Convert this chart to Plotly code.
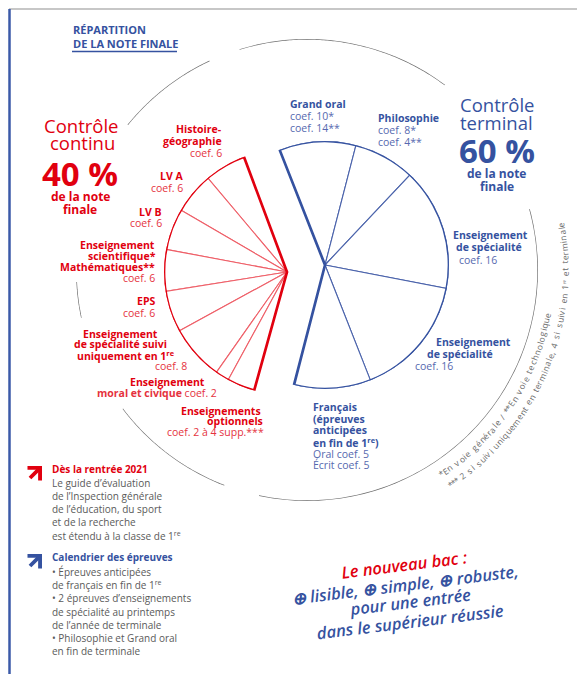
import numpy as np
import plotly.graph_objects as go

W, H = 577, 674
RED = "#E1000F"
RED_COEF = "#E5323E"
RED_DIV = "#EE5F68"
BLUE = "#3552A0"
BLUE_COEF = "#5669AF"
BLUE_DIV = "#4B63AB"
GRAY_TXT = "#5a5a5a"
GRAY_ARC = "#6e6e6e"
FONT = "Open Sans"

# ---------------- data ----------------
share_labels = ["Contrôle continu", "Contrôle terminal"]
share_values = [40, 60]

cc_subjects = ["Histoire-géographie", "LV A", "LV B",
               "Enseignement scientifique* / Mathématiques**", "EPS",
               "Enseignement de spécialité suivi uniquement en 1re",
               "Enseignement moral et civique", "Enseignements optionnels"]
cc_coefs = [6, 6, 6, 6, 6, 8, 2, 4]

ct_subjects = ["Grand oral", "Philosophie", "Enseignement de spécialité",
               "Enseignement de spécialité", "Français (épreuves anticipées)"]
ct_coefs = [10, 8, 16, 16, 10]

footnotes = ["*En voie générale / **En voie technologique",
             "*** 2 si suivi uniquement en terminale, 4 si suivi en 1ʳᵉ et terminale"]

# ---------------- geometry (layout only) ----------------
RED_CENTER, RED_R, RED_START = (287, 272), 123, 110.5
BLUE_CENTER, BLUE_R, BLUE_START = (325, 265), 124, 111.5
RING_CENTER, RING_R = (307, 270), 231
ring_spans = [(115, 141), (53.3, 107), (183, 192), (217, 249), (258, 375.3)]


def domain(c, r):
    cx, cy = c
    return dict(x=[(cx - r) / W, (cx + r) / W], y=[1 - (cy + r) / H, 1 - (cy - r) / H])


def fan(coefs, share, start, direction):
    span = 360.0 * share / 100.0
    w = np.array(coefs, float) / sum(coefs) * span
    edges = np.concatenate([[0], np.cumsum(w)])
    mids = start + direction * (edges[:-1] + w / 2)
    return mids, w, start + direction * span / 2, span


fig = go.Figure()

# guide ring
for a0, a1 in ring_spans:
    th = np.linspace(a0, a1, 120)
    fig.add_trace(go.Scatterpolar(r=np.ones_like(th), theta=th, mode="lines",
                                  line=dict(color=GRAY_ARC, width=1.4),
                                  subplot="polar3", hoverinfo="skip", showlegend=False))

# red fan (contrôle continu)
mids, w, cen, span = fan(cc_coefs, share_values[0], RED_START, +1)
fig.add_trace(go.Barpolar(r=[1] * len(cc_coefs), theta=mids, width=w, text=cc_subjects,
                          marker=dict(color="white", line=dict(color=RED_DIV, width=1.1)),
                          subplot="polar", hoverinfo="text", showlegend=False))
fig.add_trace(go.Barpolar(r=[1], theta=[cen], width=[span],
                          marker=dict(color="rgba(0,0,0,0)", line=dict(color=RED, width=2.7)),
                          subplot="polar", hoverinfo="skip", showlegend=False))

# blue fan (contrôle terminal)
mids, w, cen, span = fan(ct_coefs, share_values[1], BLUE_START, -1)
fig.add_trace(go.Barpolar(r=[1] * len(ct_coefs), theta=mids, width=w, text=ct_subjects,
                          marker=dict(color="white", line=dict(color=BLUE_DIV, width=1.1)),
                          subplot="polar2", hoverinfo="text", showlegend=False))
fig.add_trace(go.Barpolar(r=[1], theta=[cen], width=[span],
                          marker=dict(color="rgba(0,0,0,0)", line=dict(color=BLUE, width=2.7)),
                          subplot="polar2", hoverinfo="skip", showlegend=False))

pol = dict(bgcolor="rgba(0,0,0,0)",
           radialaxis=dict(visible=False, range=[0, 1]),
           angularaxis=dict(visible=False, rotation=0, direction="counterclockwise"))

ann = []


def txt(x, y, s, size=10.5, color=RED, bold=False, anchor="right", angle=0, italic=False,
        weight=None):
    wgt = weight if weight is not None else ("bold" if bold else "normal")
    ann.append(dict(x=x / W, y=1 - y / H, xref="paper", yref="paper", text=s,
                    showarrow=False, xanchor=anchor, yanchor="middle", textangle=angle,
                    borderpad=0,
                    font=dict(size=size, color=color, family=FONT, weight=wgt,
                              style="italic" if italic else "normal")))


# title
txt(72, 30, "RÉPARTITION", 11, BLUE, True, "left")
txt(72, 43, "DE LA NOTE FINALE", 11, BLUE, True, "left")

# big headings
txt(81, 125, "Contrôle", 18.5, RED, anchor="center", weight=500)
txt(82, 143, "continu", 18.5, RED, anchor="center", weight=500)
txt(80, 174, "40 %", 33, RED, True, "center")
txt(80, 196, "de la note", 12, RED, True, "center")
txt(80, 209, "finale", 12, RED, True, "center")

txt(497, 104, "Contrôle", 18.5, BLUE, anchor="center", weight=500)
txt(497, 122, "terminal", 18.5, BLUE, anchor="center", weight=500)
txt(497, 150, "60 %", 33, BLUE, True, "center")
txt(497, 173, "de la note", 12, BLUE, True, "center")
txt(497, 187, "finale", 12, BLUE, True, "center")

# red labels: (right x, y, text, bold)
red_lbl = [
    (223, 129, "Histoire-", True), (223, 141, "géographie", True), (223, 153, "coef. 6", False),
    (184, 176, "LV A", True), (184, 188, "coef. 6", False),
    (163, 212, "LV B", True), (163, 223, "coef. 6", False),
    (156, 245, "Enseignement", True), (157, 256, "scientifique*", True),
    (156, 267, "Mathématiques**", True), (156, 278, "coef. 6", False),
    (156, 301, "EPS", True), (156, 313, "coef. 6", False),
    (159, 334, "Enseignement", True), (168, 344, "de spécialité suivi", True),
    (176, 355, "uniquement en 1<sup>re</sup>", True), (188, 366, "coef. 8", False),
    (206, 382, "Enseignement", True),
    (218, 393, "<b>moral et civique</b> <span style='font-weight:normal;color:%s'>coef. 2</span>" % RED_COEF, False),
    (262, 411, "Enseignements", True), (264, 421, "optionnels", True),
    (265, 432, "coef. 2 à 4 supp.***", False),
]
for x, y, s, b in red_lbl:
    txt(x, y, s, 10.5, RED if b else RED_COEF, b, "right")

# blue labels: (left x, y, text, bold)
blue_lbl = [
    (289, 104, "Grand oral", True), (289, 116, "coef. 10*", False), (289, 128, "coef. 14**", False),
    (377, 118, "Philosophie", True), (377, 130, "coef. 8*", False), (377, 142, "coef. 4**", False),
    (452, 235, "Enseignement", True), (455, 247, "de spécialité", True), (458, 260, "coef. 16", False),
    (435, 342, "Enseignement", True), (426, 354, "de spécialité", True), (414, 366, "coef. 16", False),
    (312, 407, "Français", True), (312, 418.7, "(épreuves", True), (312, 430.4, "anticipées", True),
    (312, 442, "en fin de 1<sup>re</sup>)", True), (312, 453.8, "Oral coef. 5", False),
    (312, 465.5, "Écrit coef. 5", False),
]
for x, y, s, b in blue_lbl:
    txt(x, y, s, 10.5, BLUE if b else BLUE_COEF, b, "left")

# bottom-left blocks
txt(51, 469, "Dès la rentrée 2021", 10, RED, True, "left")
for y, s in zip([483, 496, 509, 522, 535.5],
                ["Le guide d’évaluation", "de l’Inspection générale", "de l’éducation, du sport",
                 "et de la recherche", "est étendu à la classe de 1<sup>re</sup>"]):
    txt(51, y, s, 10, GRAY_TXT, False, "left")
txt(51, 557, "Calendrier des épreuves", 10, BLUE, True, "left")
for y, s in zip([572, 585, 598, 611.5, 624.5, 637.5, 650.5],
                ["• Épreuves anticipées", "de français en fin de 1<sup>re</sup>",
                 "• 2 épreuves d’enseignements", "de spécialité au printemps",
                 "de l’année de terminale", "• Philosophie et Grand oral", "en fin de terminale"]):
    txt(51, y, s, 10, GRAY_TXT, False, "left")

# arrows
for (tx, ty, col) in [(42, 466, RED), (42, 554, BLUE)]:
    ann.append(dict(x=tx / W, y=1 - ty / H, xref="paper", yref="paper", text=" ",
                    showarrow=True, ax=-14, ay=14, arrowhead=4, arrowsize=0.9,
                    arrowwidth=3.8, arrowcolor=col, font=dict(size=4)))

# slogan
slogan = [("<span style='color:%s'>Le nouveau bac :</span>" % RED, 404, 564),
          ("⊕ lisible, ⊕ simple, ⊕ robuste,", 405, 584),
          ("pour une entrée", 410, 601),
          ("dans le supérieur réussie", 410, 621)]
for s, x, y in slogan:
    txt(x, y, s, 16.5, BLUE, anchor="center", angle=-7, italic=True, weight=600)

# curved footnotes along the ring
narrow = set("il.,'’:;|!ʳᵉ")
mid = set("tfrj/*() ")


def cw(ch):
    if ch in narrow:
        return 0.28
    if ch in mid:
        return 0.36
    if ch in "mw":
        return 0.85
    return 0.55


cx, cy = RING_CENTER
for line, r, a0, a1 in zip(footnotes, [244, 258], [-57, -56.6], [-10, 10.7]):
    widths = np.array([cw(c) for c in line])
    centers = np.cumsum(widths) - widths / 2
    frac = centers / widths.sum()
    for ch, f in zip(line, frac):
        if ch == " ":
            continue
        a = a0 + (a1 - a0) * f
        ar = np.radians(a)
        px = cx + r * np.cos(ar)
        py = cy - r * np.sin(ar)
        ann.append(dict(x=px / W, y=1 - py / H, xref="paper", yref="paper", text=ch,
                        showarrow=False, xanchor="center", yanchor="middle",
                        textangle=-(a + 90), borderpad=0,
                        font=dict(size=8.5, color="#6a6a6a", family=FONT)))

shapes = [
    dict(type="line", xref="paper", yref="paper", x0=9 / W, x1=1, y0=1 - 9 / H, y1=1 - 9 / H,
         line=dict(color="#b5b5b5", width=1.5)),
    dict(type="line", xref="paper", yref="paper", x0=9.5 / W, x1=9.5 / W, y0=0, y1=1 - 9 / H,
         line=dict(color="#3B5AA8", width=2.5)),
    dict(type="line", xref="paper", yref="paper", x0=72 / W, x1=177 / W, y0=1 - 51.5 / H, y1=1 - 51.5 / H,
         line=dict(color=BLUE, width=1.5)),
]

fig.update_layout(
    width=W, height=H, margin=dict(l=0, r=0, t=0, b=0),
    paper_bgcolor="white", plot_bgcolor="white",
    polar=dict(domain=domain(RED_CENTER, RED_R), **pol),
    polar2=dict(domain=domain(BLUE_CENTER, BLUE_R), **pol),
    polar3=dict(domain=domain(RING_CENTER, RING_R), **pol),
    annotations=ann, shapes=shapes, showlegend=False,
)

fig.write_html("out.html", config={"displayModeBar": False},
               post_script="document.body.style.margin='0';document.body.style.overflow='hidden';")
